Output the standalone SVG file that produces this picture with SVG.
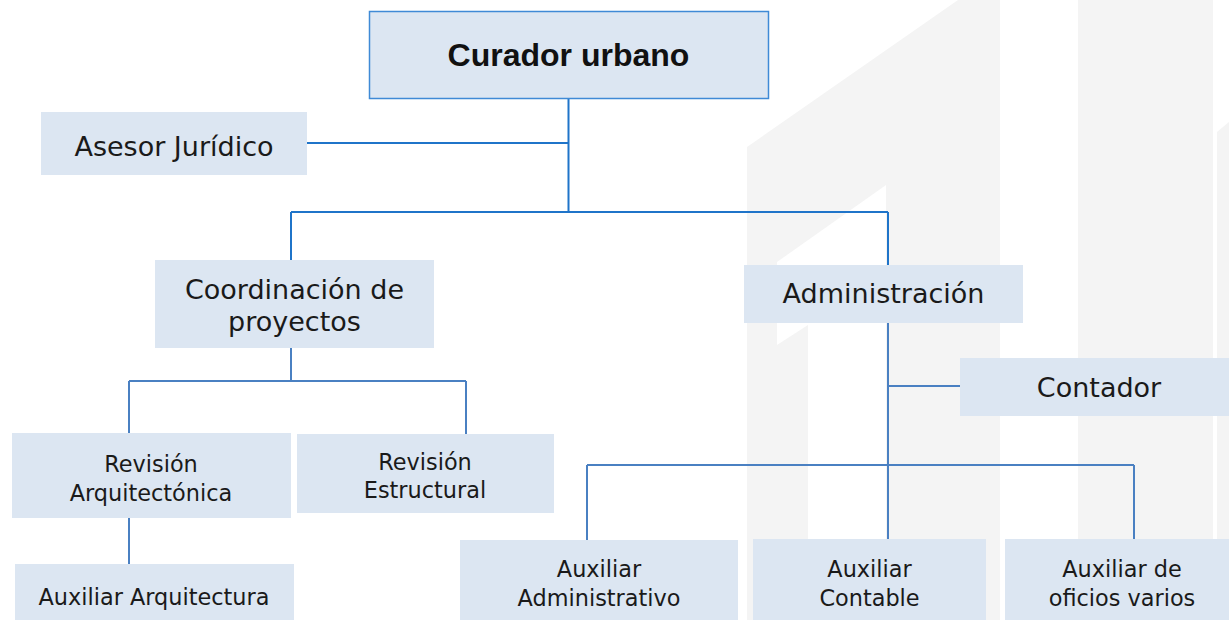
<svg xmlns="http://www.w3.org/2000/svg" width="1229" height="620" viewBox="0 0 1229 620">
<style>
.box{fill:#dce6f2;}
.top{fill:#dce6f2;stroke:#3f8ad6;stroke-width:1.5;}
.t{font-family:"DejaVu Sans",sans-serif;fill:#1a1a1a;text-anchor:middle;}
.m{font-size:27px;}
.s{font-size:22.4px;}
.title{font-family:"Liberation Sans",Arial,sans-serif;font-weight:bold;font-size:32px;fill:#111;text-anchor:middle;}
.c1{fill:none;stroke:#1f74c9;stroke-width:2;}
.c2{fill:none;stroke:#4a80c2;stroke-width:2;}
.wm{fill:#f4f4f4;}
</style>
<rect x="0" y="0" width="1229" height="620" fill="#ffffff"/>
<g id="watermark">
<polygon class="wm" points="747,147 958,0 1000,0 1000,620 747,620"/>
<polygon fill="#ffffff" points="777,262 886,185 886,620 808,620 808,325 777,345"/>
<rect class="wm" x="1078" y="0" width="135" height="620"/>
<polygon class="wm" points="1217,132 1229,122 1229,620 1217,620"/>
</g>
<g id="connectors">
<path class="c1" d="M568.5,99 V212 M307,143 H568.5 M291,212 H888 M291,212 V260 M888,212 V265"/>
<path class="c2" d="M291,348 V381 M129,381 H466 M129,381 V433 M466,381 V434 M129,518 V564"/>
<path class="c2" d="M888,323 V539 M889,386 H960 M587,465 H1134 M587,465 V540 M1134,465 V539"/>
</g>
<g id="curador">
<rect class="top" x="369.5" y="11.5" width="399" height="87"/>
<text class="title" x="568.5" y="66">Curador urbano</text>
</g>
<g id="asesor">
<rect class="box" x="41" y="112" width="266" height="63"/>
<text class="t m" x="174" y="156">Asesor Jurídico</text>
</g>
<g id="coordinacion">
<rect class="box" x="155" y="260" width="279" height="88"/>
<text class="t m" x="294.5" y="299">Coordinación de</text>
<text class="t m" x="294.5" y="331">proyectos</text>
</g>
<g id="administracion">
<rect class="box" x="744" y="265" width="279" height="58"/>
<text class="t m" x="883.5" y="303" font-size="26">Administración</text>
</g>
<g id="contador">
<rect class="box" x="960" y="358" width="269" height="58"/>
<text class="t m" x="1099" y="397">Contador</text>
</g>
<g id="revision-arq">
<rect class="box" x="12" y="433" width="279" height="85"/>
<text class="t s" x="151" y="472">Revisión</text>
<text class="t s" x="151" y="501">Arquitectónica</text>
</g>
<g id="revision-est">
<rect class="box" x="297" y="434" width="257" height="79"/>
<text class="t s" x="425" y="470">Revisión</text>
<text class="t s" x="425" y="498">Estructural</text>
</g>
<g id="aux-arq">
<rect class="box" x="15" y="564" width="279" height="56"/>
<text class="t s" x="154" y="605">Auxiliar Arquitectura</text>
</g>
<g id="aux-admin">
<rect class="box" x="460" y="540" width="278" height="80"/>
<text class="t s" x="599" y="577">Auxiliar</text>
<text class="t s" x="599" y="606">Administrativo</text>
</g>
<g id="aux-contable">
<rect class="box" x="753" y="539" width="233" height="81"/>
<text class="t s" x="869.5" y="577">Auxiliar</text>
<text class="t s" x="869.5" y="606">Contable</text>
</g>
<g id="aux-oficios">
<rect class="box" x="1005" y="539" width="224" height="81"/>
<text class="t s" x="1122" y="577">Auxiliar de</text>
<text class="t s" x="1122" y="606">oficios varios</text>
</g>
</svg>
